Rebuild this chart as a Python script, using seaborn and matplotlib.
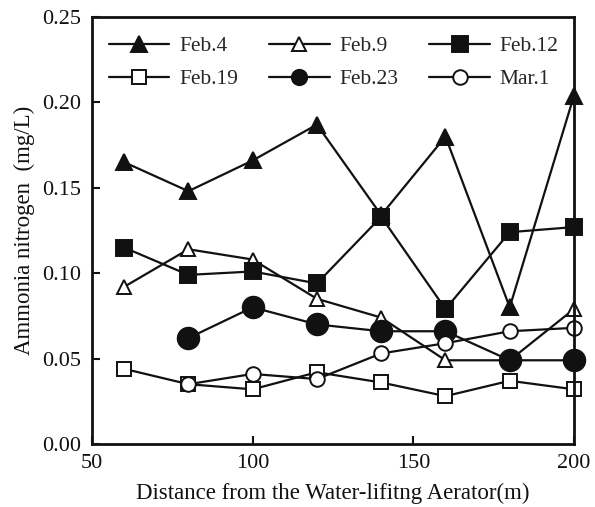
import numpy as np
import pandas as pd
import matplotlib
matplotlib.use("Agg")
import matplotlib.pyplot as plt
import seaborn as sns

# Distance from the aerator (m)
distance = [60, 80, 100, 120, 140, 160, 180, 200]

# Ammonia nitrogen (mg/L) per sampling date
feb4 = [0.165, 0.148, 0.166, 0.187, 0.134, 0.180, 0.080, 0.204]
feb9 = [0.092, 0.114, 0.108, 0.085, 0.074, 0.049, 0.049, 0.079]
feb12 = [0.115, 0.099, 0.101, 0.094, 0.133, 0.079, 0.124, 0.127]
feb19 = [0.044, 0.035, 0.032, 0.042, 0.036, 0.028, 0.037, 0.032]
feb23 = [np.nan, 0.062, 0.080, 0.070, 0.066, 0.066, 0.049, 0.049]
mar1 = [np.nan, 0.035, 0.041, 0.038, 0.053, 0.059, 0.066, 0.068]

series_names = ["Feb.4", "Feb.9", "Feb.12", "Feb.19", "Feb.23", "Mar.1"]
series_values = [feb4, feb9, feb12, feb19, feb23, mar1]

x_ticks = [50, 100, 150, 200]
y_ticks = [0.00, 0.05, 0.10, 0.15, 0.20, 0.25]
y_tick_labels = ["0.00", "0.05", "0.10", "0.15", "0.20", "0.25"]

# marker shape, filled?, size in plot (pt), size in legend (pt)
styles = {
    "Feb.4": ("^", True, 11, 11),
    "Feb.9": ("^", False, 10, 10),
    "Feb.12": ("s", True, 12, 12),
    "Feb.19": ("s", False, 10, 10),
    "Feb.23": ("o", True, 15.5, 11),
    "Mar.1": ("o", False, 10.5, 10.5),
}

INK = "#111111"

sns.set_style("ticks")
plt.rcParams["font.family"] = ["Liberation Serif", "DejaVu Serif"]

fig = plt.figure(figsize=(5.95, 5.07), dpi=100)
ax = fig.add_axes([0.1546, 0.1243, 0.9647 - 0.1546, 0.9665 - 0.1243])

handles = {}
for name, vals in zip(series_names, series_values):
    df = pd.DataFrame({"distance": distance, "value": vals}).dropna()
    marker, filled, ms, _ = styles[name]
    sns.lineplot(
        data=df, x="distance", y="value", ax=ax,
        color=INK, linewidth=1.6,
        marker=marker, markersize=ms,
        markerfacecolor=INK if filled else "white",
        markeredgecolor=INK, markeredgewidth=1.4,
        label=name, legend=False, zorder=3, clip_on=False,
    )
    handles[name] = ax.lines[-1]

ax.set_xlim(50, 200)
ax.set_ylim(0, 0.25)
ax.set_xticks(x_ticks)
ax.set_yticks(y_ticks)
ax.set_yticklabels(y_tick_labels)
ax.tick_params(axis="both", direction="in", length=6, width=1.5,
               labelsize=16, colors=INK, top=False, right=False)
ax.tick_params(axis="x", pad=7)
ax.tick_params(axis="y", pad=8)
for s in ax.spines.values():
    s.set_linewidth(2)
    s.set_color(INK)
    s.set_zorder(4)

ax.set_xlabel("Distance from the Water-lifitng Aerator(m)", fontsize=16.5,
              color=INK, labelpad=7)
ax.set_ylabel("Ammonia nitrogen  (mg/L)", fontsize=16.5, color=INK,
              labelpad=5)

order = ["Feb.4", "Feb.19", "Feb.9", "Feb.23", "Feb.12", "Mar.1"]
leg = ax.legend([handles[n] for n in order], order, ncol=3, frameon=False,
                loc="upper left", bbox_to_anchor=(0.0, 0.995),
                fontsize=15.5, handlelength=2.8, handletextpad=0.45,
                columnspacing=1.45, labelspacing=0.6, borderaxespad=0.4)
for h, n in zip(leg.legend_handles, order):
    h.set_markersize(styles[n][3])

fig.savefig("out.png", dpi=100)
